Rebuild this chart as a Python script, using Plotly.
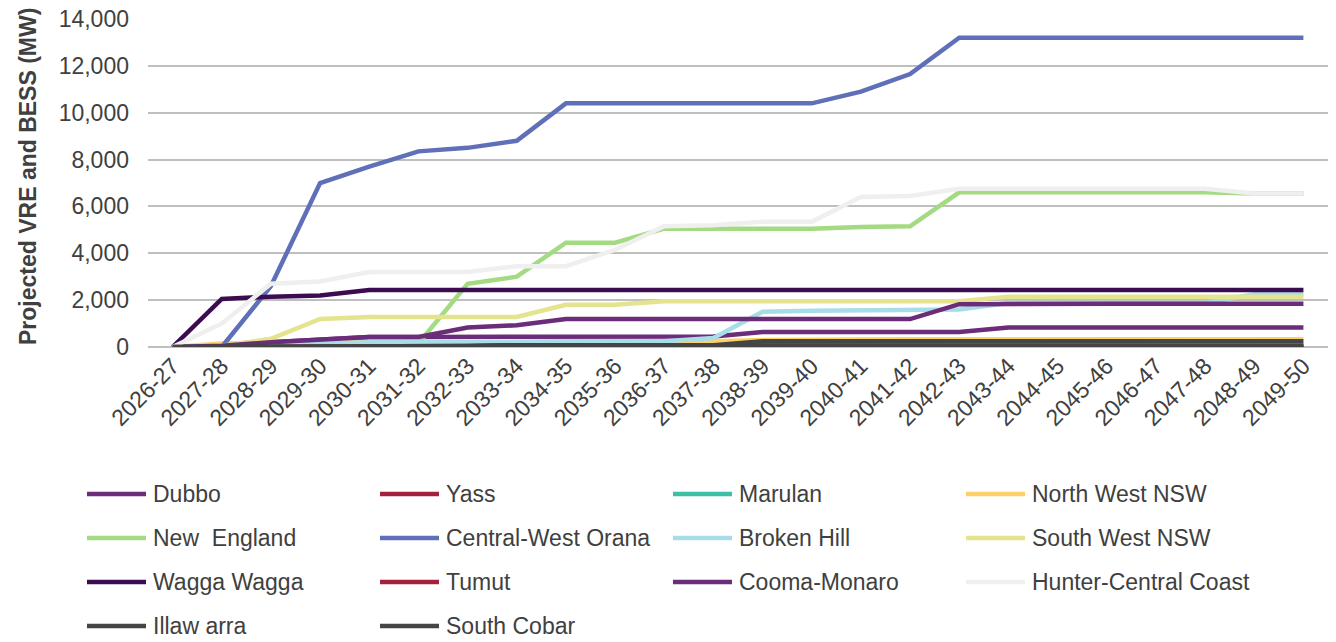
import plotly.graph_objects as go

# Financial years on the category axis
years = [
    "2026-27", "2027-28", "2028-29", "2029-30", "2030-31", "2031-32",
    "2032-33", "2033-34", "2034-35", "2035-36", "2036-37", "2037-38",
    "2038-39", "2039-40", "2040-41", "2041-42", "2042-43", "2043-44",
    "2044-45", "2045-46", "2046-47", "2047-48", "2048-49", "2049-50",
]

# Projected VRE and BESS capacity per region (MW)
dubbo = [0, 50, 200, 330, 430, 430, 430, 430, 430, 430, 430, 450,
         640, 640, 640, 640, 640, 830, 830, 830, 830, 830, 830, 830]
yass = [0] * 24
marulan = [0, 0, 0, 0, 0, 0, 0, 0, 0, 0, 0, 0,
           100, 100, 100, 100, 100, 100, 100, 100, 100, 100, 100, 100]
north_west_nsw = [0, 150, 200, 200, 200, 200, 200, 200, 200, 230, 250, 250,
                  300, 320, 330, 330, 330, 330, 330, 330, 330, 330, 330, 330]
new_england = [0, 0, 50, 100, 150, 150, 2700, 3000, 4450, 4450, 5050, 5050,
               5050, 5050, 5120, 5150, 6600, 6600, 6600, 6600, 6600, 6600, 6550, 6550]
central_west_orana = [0, 0, 2600, 7000, 7700, 8350, 8500, 8800, 10400, 10400, 10400, 10400,
                      10400, 10400, 10900, 11650, 13200, 13200, 13200, 13200, 13200, 13200, 13200, 13200]
broken_hill = [0, 0, 100, 150, 200, 200, 200, 200, 250, 250, 250, 380,
               1500, 1550, 1580, 1580, 1600, 1880, 1880, 1880, 1880, 1880, 2250, 2250]
south_west_nsw = [0, 50, 350, 1200, 1280, 1280, 1280, 1280, 1800, 1800, 1950, 1950,
                  1950, 1950, 1950, 1950, 1950, 2150, 2150, 2150, 2150, 2150, 2150, 2150]
wagga_wagga = [0, 2050, 2150, 2200, 2430, 2430, 2430, 2430, 2430, 2430, 2430, 2430,
               2430, 2430, 2430, 2430, 2430, 2430, 2430, 2430, 2430, 2430, 2430, 2430]
tumut = [0] * 24
cooma_monaro = [0, 50, 200, 330, 430, 430, 830, 930, 1190, 1190, 1190, 1190,
                1190, 1190, 1190, 1190, 1830, 1850, 1850, 1850, 1850, 1850, 1850, 1850]
hunter_central_coast = [0, 1000, 2700, 2800, 3200, 3200, 3200, 3450, 3450, 4150, 5150, 5200,
                        5350, 5350, 6400, 6450, 6750, 6750, 6750, 6750, 6750, 6750, 6550, 6550]
illawarra = [0, 0, 0, 0, 0, 0, 40, 80, 80, 80, 80, 80,
             40, 40, 40, 40, 40, 40, 40, 40, 40, 40, 40, 40]
south_cobar = [0, 0, 0, 0, 0, 0, 40, 80, 80, 80, 80, 80,
               250, 250, 250, 250, 250, 250, 250, 250, 250, 250, 250, 250]

series = [
    ("Dubbo", dubbo, "#6b2c7a"),
    ("Yass", yass, "#a3203f"),
    ("Marulan", marulan, "#3dbfa6"),
    ("North West NSW", north_west_nsw, "#fdd06a"),
    ("New  England", new_england, "#a3da82"),
    ("Central-West Orana", central_west_orana, "#5f70b8"),
    ("Broken Hill", broken_hill, "#a7dce9"),
    ("South West NSW", south_west_nsw, "#e4e38e"),
    ("Wagga Wagga", wagga_wagga, "#3b0c50"),
    ("Tumut", tumut, "#a3203f"),
    ("Cooma-Monaro", cooma_monaro, "#6b2c7a"),
    ("Hunter-Central Coast", hunter_central_coast, "#efefef"),
    ("Illaw arra", illawarra, "#454545"),
    ("South Cobar", south_cobar, "#454545"),
]

W, H = 1336, 642
PL, PR, PT, PB = 148, 1328, 19, 347   # plot area in pixels
font_family = "Liberation Sans, Arial, sans-serif"
text_color = "#404040"


def px_x(px):
    return (px - PL) / (PR - PL)


def px_y(py):
    return (PB - py) / (PB - PT)


fig = go.Figure()
for name, values, color in series:
    fig.add_trace(go.Scatter(
        x=years, y=values, name=name, mode="lines",
        line=dict(color=color, width=4.5),
        showlegend=False,
    ))

# Legend: four columns, row-major order
col_x = [87, 380, 673, 966]
row_y = [494, 538, 582, 626]
shapes, annotations = [], []
for k, (name, _, color) in enumerate(series):
    r, c = divmod(k, 4)
    x0 = col_x[c]
    y0 = row_y[r]
    shapes.append(dict(
        type="line", xref="paper", yref="paper",
        x0=px_x(x0), x1=px_x(x0 + 59), y0=px_y(y0), y1=px_y(y0),
        line=dict(color=color, width=4.5),
    ))
    annotations.append(dict(
        xref="paper", yref="paper", x=px_x(x0 + 64), y=px_y(y0),
        xanchor="left", yanchor="middle", showarrow=False,
        text=name, font=dict(family=font_family, size=23, color=text_color),
    ))

# Vertical axis title
annotations.append(dict(
    xref="paper", yref="paper", x=px_x(28), y=px_y(177),
    xanchor="center", yanchor="middle", showarrow=False, textangle=-90,
    text="<b>Projected VRE and BESS (MW)</b>",
    font=dict(family=font_family, size=23, color=text_color),
))

fig.update_layout(
    width=W, height=H,
    margin=dict(l=PL, r=W - PR, t=PT, b=H - PB, autoexpand=False),
    paper_bgcolor="white", plot_bgcolor="white",
    font=dict(family=font_family, size=23, color=text_color),
    showlegend=False,
    shapes=shapes,
    annotations=annotations,
    xaxis=dict(
        type="category",
        range=[-0.5, 23.5],
        tickangle=-45,
        showgrid=False,
        showline=False,
        zeroline=False,
        ticks="",
        automargin=False,
        tickfont=dict(family=font_family, size=23, color=text_color),
    ),
    yaxis=dict(
        range=[0, 14000],
        dtick=2000,
        tickformat=",d",
        showgrid=True,
        gridcolor="#bfbfbf",
        gridwidth=2,
        zeroline=True,
        zerolinecolor="#bfbfbf",
        zerolinewidth=2,
        ticks="",
        automargin=False,
        ticklabelstandoff=18,
        tickfont=dict(family=font_family, size=23, color=text_color),
    ),
)

fig.write_html("out.html")
